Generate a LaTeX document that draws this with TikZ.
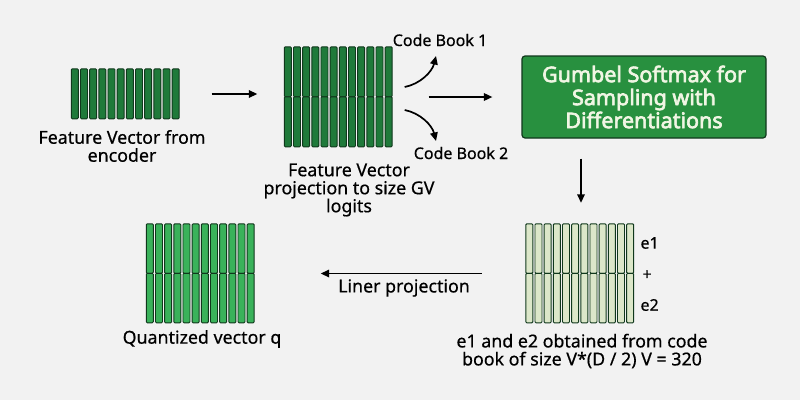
\documentclass[tikz,border=0pt]{standalone}
\usepackage{fontspec}
\setmainfont{Noto Sans}[UprightFeatures={FakeBold=0.5},
  BoldFont={Noto Sans},BoldFeatures={FakeBold=3}]
\usetikzlibrary{arrows.meta,calc,positioning}
\definecolor{fundo}{HTML}{F2F2F2}
\definecolor{verdeescuro}{HTML}{1F7A3A}
\definecolor{verdemedio}{HTML}{3AB25A}
\definecolor{verdepalido}{HTML}{DCE7C9}
\definecolor{verdecaixa}{HTML}{28903F}
\definecolor{contorno}{HTML}{10381C}
\definecolor{textoclaro}{HTML}{F1F6E4}

\begin{document}
\begin{tikzpicture}[x=1pt,y=-1pt,
  vecbox/.style={minimum width=110pt,minimum height=#1,inner sep=0pt},
  bar/.style={draw=contorno,line width=0.9pt,rounded corners=1pt},
  lab/.style={font=\fontsize{17.8}{18}\selectfont,align=center},
  small/.style={font=\fontsize{16}{18}\selectfont},
  gbox/.style={draw=contorno,line width=1.2pt,rounded corners=3pt,fill=verdecaixa,
    text=textoclaro,font=\fontsize{21.5}{23}\selectfont\bfseries,align=center,
    minimum width=244pt,minimum height=82pt},
  arr/.style={-{Triangle[length=8.5pt,width=7.5pt]},line width=1.7pt}
]
  \path[use as bounding box,fill=fundo] (0,0) rectangle (800,400);

  % vector blocks
  \node[vecbox=50pt] (enc) at (126.5,94) {};
  \node[vecbox=100pt] (proj) at (339.5,97) {};
  \node[vecbox=99pt] (cb) at (581,273.5) {};
  \node[vecbox=99pt] (quant) at (201.5,273.5) {};

  \foreach \i in {0,...,11} {
    \draw[bar,fill=verdeescuro] ($(enc.north west)+(\i*9.17,0)$) rectangle ++(7,50);
    \draw[bar,fill=verdeescuro] ($(proj.north west)+(\i*9.17,0)$) rectangle ++(7,50);
    \draw[bar,fill=verdeescuro] ($(proj.north west)+(\i*9.17,50)$) rectangle ++(7,50);
    \draw[bar,fill=verdepalido] ($(cb.north west)+(\i*9.17,0)$) rectangle ++(7,49.5);
    \draw[bar,fill=verdepalido] ($(cb.north west)+(\i*9.17,49.5)$) rectangle ++(7,49.5);
    \draw[bar,fill=verdemedio] ($(quant.north west)+(\i*9.17,0)$) rectangle ++(7,49.5);
    \draw[bar,fill=verdemedio] ($(quant.north west)+(\i*9.17,49.5)$) rectangle ++(7,49.5);
  }

  \node[lab] (enclab) at (122,146) {Feature Vector from\\encoder};
  \node[lab] (projlab) at (349,190) {Feature Vector\\projection to size GV\\logits};
  \node[lab] (cblab) at (582,351) {e1 and e2 obtained from code\\book of size V*(D / 2) V = 320};
  \node[lab] (quantlab) at (202,339) {Quantized vector q};

  \node[small] (book1) at (440,40) {Code Book 1};
  \node[small] (book2) at (461,153) {Code Book 2};
  \node[small,anchor=west] (e1) at (637,243) {e1};
  \node[small,anchor=west] (plus) at (639,275) {+};
  \node[small,anchor=west] (e2) at (637,305) {e2};

  \node[gbox] (gumbel) at (644,97) {Gumbel Softmax for\\Sampling with\\Differentiations};

  % connectors
  \draw[arr,shorten <=30pt,shorten >=27pt] (enc.east) -- (proj.west |- enc.east);
  \draw[arr,shorten <=34pt,shorten >=29pt] (proj.east) -- (gumbel.west |- proj.east);
  \coordinate (up0) at ($(proj.east)+(10,-10)$);
  \coordinate (up1) at (436,56);
  \coordinate (dn0) at ($(proj.east)+(10,13)$);
  \coordinate (dn1) at (436,141);
  \draw[arr] (up0) .. controls (420,84) and (432,72) .. (up1);
  \draw[arr] (dn0) .. controls (420,113) and (432,125) .. (dn1);
  \draw[arr,shorten <=20pt,shorten >=21pt] (gumbel.south -| cb.north) -- (cb.north);
  \draw[arr,shorten <=44pt,shorten >=64pt] (cb.west) -- (quant.east);
  \node[lab] (linlab) at (404,288) {Liner projection};
\end{tikzpicture}
\end{document}
